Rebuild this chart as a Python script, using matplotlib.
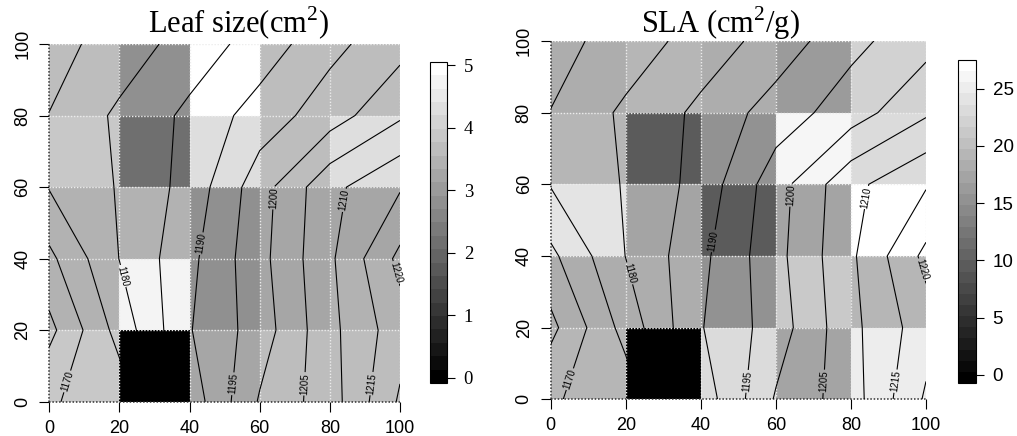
import numpy as np
import matplotlib
matplotlib.use('Agg')
import matplotlib.pyplot as plt
from matplotlib.colors import ListedColormap, Normalize

plt.rcParams['font.family'] = 'Liberation Sans'
plt.rcParams['mathtext.fontset'] = 'custom'
plt.rcParams['mathtext.rm'] = 'Liberation Serif'

# grid (cell edges / contour nodes)
edges = [0, 20, 40, 60, 80, 100]

# elevation at grid nodes, rows from y=0 (bottom) to y=100 (top)
elev = [
    [1169.6, 1172.0, 1187.0, 1200.5, 1207.7, 1220.7],
    [1163.6, 1176.9, 1189.7, 1197.4, 1208.6, 1217.9],
    [1168.8, 1180.1, 1188.7, 1198.4, 1209.1, 1221.3],
    [1175.3, 1180.4, 1186.8, 1197.8, 1208.6, 1214.5],
    [1175.1, 1181.0, 1186.1, 1192.3, 1197.6, 1204.3],
    [1173.3, 1177.0, 1182.3, 1187.0, 1193.6, 1198.2],
]
plain_levels = [1165, 1175, 1185]
label_levels = [1170, 1180, 1190, 1195, 1200, 1205, 1210, 1215, 1220]
label_pos = [(4, 6), (20.5, 35), (44.5, 44), (52.5, 5), (64.5, 57),
             (72.8, 5), (86, 56), (92.3, 5), (98.4, 36)]

# cell values, rows from top (y 80-100) to bottom (y 0-20)
leaf = [
    [3.74, 2.90, 5.05, 3.74, 3.74],
    [3.86, 2.27, 4.39, 3.74, 4.35],
    [3.44, 3.54, 2.78, 3.14, 3.30],
    [3.44, 4.79, 2.70, 3.14, 3.54],
    [3.86, -0.08, 3.14, 3.74, 3.74],
]
sla = [
    [18.2, 19.3, 18.1, 16.2, 22.6],
    [19.1, 9.9, 14.9, 26.2, 23.3],
    [24.0, 17.6, 9.6, 17.0, 27.5],
    [17.8, 17.8, 15.0, 21.2, 19.0],
    [19.4, -0.7, 23.5, 17.2, 25.1],
]
leaf_ticks = [0, 1, 2, 3, 4, 5]
sla_ticks = [0, 5, 10, 15, 20, 25]
axis_ticks = [0, 20, 40, 60, 80, 100]

W, H = 1017, 436


def box(x0, y0, x1, y1):
    return [x0 / W, 1 - y1 / H, (x1 - x0) / W, (y1 - y0) / H]


fig = plt.figure(figsize=(W / 100, H / 100), dpi=100)


def panel(ax_px, cax_px, vals, nband, ticks, title, title_x, cbar_family):
    ax = fig.add_axes(box(*ax_px))
    cax = fig.add_axes(box(*cax_px))
    z = np.flipud(np.array(vals))
    cmap = ListedColormap(plt.cm.gray(np.linspace(0, 1, nband)))
    norm = Normalize(z.min(), z.max())
    mesh = ax.pcolormesh(edges, edges, z, cmap=cmap, norm=norm)

    # dotted cell borders
    dot = (0, (1, 1.2))
    for v in edges[1:]:
        ax.plot([v, v], [0, 100], ls=dot, color='#ececec', lw=1.0, zorder=2)
        ax.plot([0, 100], [v, v], ls=dot, color='#ececec', lw=1.0, zorder=2)
    ax.plot([0, 0], [0, 100], ls=dot, color='#303030', lw=1.1, zorder=3, clip_on=False)
    ax.plot([0, 100], [0, 0], ls=dot, color='#303030', lw=1.1, zorder=3, clip_on=False)

    ax.contour(edges, edges, elev, levels=plain_levels, colors='black',
               linewidths=0.8, zorder=4)
    cs = ax.contour(edges, edges, elev, levels=label_levels, colors='black',
                    linewidths=0.8, zorder=4)
    labs = ax.clabel(cs, manual=label_pos, inline=True,
                     fontsize=7, fmt='%d', inline_spacing=1)
    for t in labs:
        t.set_clip_on(False)

    ax.set_xlim(0, 100)
    ax.set_ylim(0, 100)
    for s in ax.spines.values():
        s.set_visible(False)
    ax.set_xticks(axis_ticks)
    ax.set_yticks(axis_ticks)
    ax.set_xticklabels([str(t) for t in axis_ticks])
    ax.set_yticklabels([str(t) for t in axis_ticks], rotation=90, va='center')
    ax.tick_params(length=7, width=0.8, direction='out', labelsize=13, pad=6)

    cb = fig.colorbar(mesh, cax=cax, ticks=ticks)
    cb.outline.set_linewidth(0.8)
    cax.set_yticks(ticks)
    cax.set_yticklabels([str(t) for t in ticks], fontfamily=cbar_family)
    cax.tick_params(length=6, width=0.8, labelsize=13.5, pad=6)

    fig.text(title_x / W, 1 - 33 / H, title, ha='center', va='baseline',
             fontsize=22, family='Liberation Serif')


panel((49.3, 44, 400, 401.7), (430, 62, 447, 383), leaf, 24, leaf_ticks,
      r'Leaf size(cm$^{2}$)', 238, 'Liberation Serif')
panel((550.7, 41, 926, 399.3), (958, 60, 976, 383), sla, 29, sla_ticks,
      r'SLA (cm$^{2}$/g)', 720, 'Liberation Sans')

fig.savefig('out.png', dpi=100)
